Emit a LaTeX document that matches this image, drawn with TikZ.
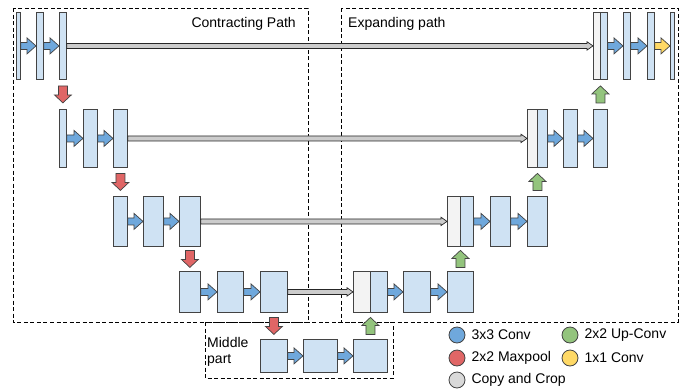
\documentclass[tikz,border=0pt]{standalone}
\usepackage{fontspec}
\setmainfont{Liberation Sans}
\usetikzlibrary{calc,positioning}

\definecolor{mapblue}{HTML}{CFE2F3}
\definecolor{copygray}{HTML}{F3F3F3}
\definecolor{convblue}{HTML}{6FA8DC}
\definecolor{poolred}{HTML}{E06666}
\definecolor{upgreen}{HTML}{93C47D}
\definecolor{outyellow}{HTML}{FFD966}
\definecolor{cropgray}{HTML}{D9D9D9}
\definecolor{edge}{HTML}{434343}

\tikzset{
  fmap/.style={draw=edge, line width=0.8pt, fill=mapblue, inner sep=0pt, anchor=north west},
  crop/.style={fmap, fill=copygray},
  lvA/.style={minimum height=67},
  lvB/.style={minimum height=58},
  lvC/.style={minimum height=50},
  lvD/.style={minimum height=41},
  lvE/.style={minimum height=33},
  opline/.style={draw=edge, line width=0.7pt, line join=miter},
  region/.style={draw, line width=0.7pt, dash pattern=on 4pt off 2.5pt},
  legdot/.style={circle, draw=edge, line width=0.8pt, minimum size=16, inner sep=0pt},
  tag/.style={inner sep=0pt},
}

% block arrow filling the gap between two maps of one row
\newcommand{\hop}[3]{%
  \filldraw[opline, fill=#1] let \p1=(#2), \p2=(#3) in
    (\x1,\y1+3.5) -- (\x2-9,\y1+3.5) -- (\x2-9,\y1+8) -- (\x2,\y1)
    -- (\x2-9,\y1-8) -- (\x2-9,\y1-3.5) -- (\x1,\y1-3.5) -- cycle;}
% up/down block arrow, centred in the gap between two rows
\newcommand{\vop}[3]{%
  \filldraw[opline, fill=#1] let \p1=(#2), \p2=(#3) in
    (\x1-4.5,{(\y1+\y2)/2-sign(\y2-\y1)*8.5}) -- (\x1+4.5,{(\y1+\y2)/2-sign(\y2-\y1)*8.5})
    -- (\x1+4.5,{(\y1+\y2)/2+sign(\y2-\y1)*0.5}) -- (\x1+8.5,{(\y1+\y2)/2+sign(\y2-\y1)*0.5})
    -- (\x1,{(\y1+\y2)/2+sign(\y2-\y1)*8.5}) -- (\x1-8.5,{(\y1+\y2)/2+sign(\y2-\y1)*0.5})
    -- (\x1-4.5,{(\y1+\y2)/2+sign(\y2-\y1)*0.5}) -- cycle;}
% long copy arrow across the U
\newcommand{\skipop}[2]{%
  \filldraw[opline, draw=black!85, fill=black!20] let \p1=(#1), \p2=(#2) in
    (\x1,\y1+2.5) -- (\x2-6,\y1+2.5) -- (\x2-6,\y1+4.2) -- (\x2,\y1)
    -- (\x2-6,\y1-4.2) -- (\x2-6,\y1-2.5) -- (\x1,\y1-2.5) -- cycle;}

\begin{document}
\begin{tikzpicture}[x=1pt, y=-1pt, font=\fontsize{14}{16}\selectfont]
\useasboundingbox (0,0) rectangle (699,389);

% dashed regions
\draw[region] (13,8) rectangle (308,322);
\draw[region] (341,8) rectangle (678,322);
\draw[region] (205,322) rectangle (393,378);
\node[tag, anchor=base east] (contract) at (296,27) {Contracting Path};
\node[tag, anchor=base west] (expand) at (348,27) {Expanding path};
\node[tag, anchor=north west, align=left] (middle) at (207,337) {Middle\\part};

% contracting path
\node[fmap, lvA, minimum width=4] (l11) at (16,12) {};
\node[fmap, lvA, minimum width=7] (l12) at (36,12) {};
\node[fmap, lvA, minimum width=7] (l13) at (59,12) {};
\node[fmap, lvB, minimum width=7] (l21) at (59,109) {};
\node[fmap, lvB, minimum width=14] (l22) at (83,109) {};
\node[fmap, lvB, minimum width=14] (l23) at (113,109) {};
\node[fmap, lvC, minimum width=14] (l31) at (113,196) {};
\node[fmap, lvC, minimum width=20] (l32) at (143,196) {};
\node[fmap, lvC, minimum width=21] (l33) at (179,196) {};
\node[fmap, lvD, minimum width=21] (l41) at (179,271) {};
\node[fmap, lvD, minimum width=26] (l42) at (217,271) {};
\node[fmap, lvD, minimum width=27] (l43) at (260,271) {};
% middle part
\node[fmap, lvE, minimum width=27] (m1) at (260,339) {};
\node[fmap, lvE, minimum width=34] (m2) at (303,339) {};
\node[fmap, lvE, minimum width=34] (m3) at (353,339) {};
% expanding path
\node[crop, lvD, minimum width=17] (r4c) at (353,271) {};
\node[fmap, lvD, minimum width=17] (r41) at (370,271) {};
\node[fmap, lvD, minimum width=27] (r42) at (403,271) {};
\node[fmap, lvD, minimum width=26] (r43) at (447,271) {};
\node[crop, lvC, minimum width=13] (r3c) at (447,196) {};
\node[fmap, lvC, minimum width=13] (r31) at (460,196) {};
\node[fmap, lvC, minimum width=20] (r32) at (490,196) {};
\node[fmap, lvC, minimum width=20] (r33) at (527,196) {};
\node[crop, lvB, minimum width=10] (r2c) at (527,109) {};
\node[fmap, lvB, minimum width=10] (r21) at (537,109) {};
\node[fmap, lvB, minimum width=14] (r22) at (563,109) {};
\node[fmap, lvB, minimum width=14] (r23) at (593,109) {};
\node[crop, lvA, minimum width=7] (r1c) at (593,12) {};
\node[fmap, lvA, minimum width=7] (r11) at (600,12) {};
\node[fmap, lvA, minimum width=7] (r12) at (623,12) {};
\node[fmap, lvA, minimum width=7] (r13) at (647,12) {};
\node[fmap, lvA, minimum width=4] (r14) at (670,12) {};

% copy and crop
\skipop{l13.east}{r1c.west}
\skipop{l23.east}{r2c.west}
\skipop{l33.east}{r3c.west}
\skipop{l43.east}{r4c.west}

% 3x3 convolutions
\foreach \a/\b in {l11/l12, l12/l13, l21/l22, l22/l23, l31/l32, l32/l33,
    l41/l42, l42/l43, m1/m2, m2/m3, r41/r42, r42/r43, r31/r32, r32/r33,
    r21/r22, r22/r23, r11/r12, r12/r13}
  \hop{convblue}{\a.east}{\b.west};
\hop{outyellow}{r13.east}{r14.west}

% max pooling and up-convolution
\foreach \a/\b in {l13/l21, l23/l31, l33/l41, l43/m1}
  \vop{poolred}{\a.south}{\b.north};
\foreach \a/\b in {m3/r41, r43/r31, r33/r21, r23/r11}
  \vop{upgreen}{\a.north}{\a.north |- \b.south};

% legend
\node[legdot, fill=convblue] (kconv) at (457,335) {};
\node[legdot, fill=poolred] (kpool) at (457,358) {};
\node[legdot, fill=cropgray] (kcrop) at (457,380) {};
\node[legdot, fill=upgreen] (kup) at (570,335) {};
\node[legdot, fill=outyellow] (kout) at (570,358) {};
\node[tag, right=6pt of kconv] (tconv) {3x3 Conv};
\node[tag, right=6pt of kpool] (tpool) {2x2 Maxpool};
\node[tag, right=6pt of kcrop] (tcrop) {Copy and Crop};
\node[tag, right=6pt of kup] (tup) {2x2 Up-Conv};
\node[tag, right=6pt of kout] (tout) {1x1 Conv};
\end{tikzpicture}
\end{document}
